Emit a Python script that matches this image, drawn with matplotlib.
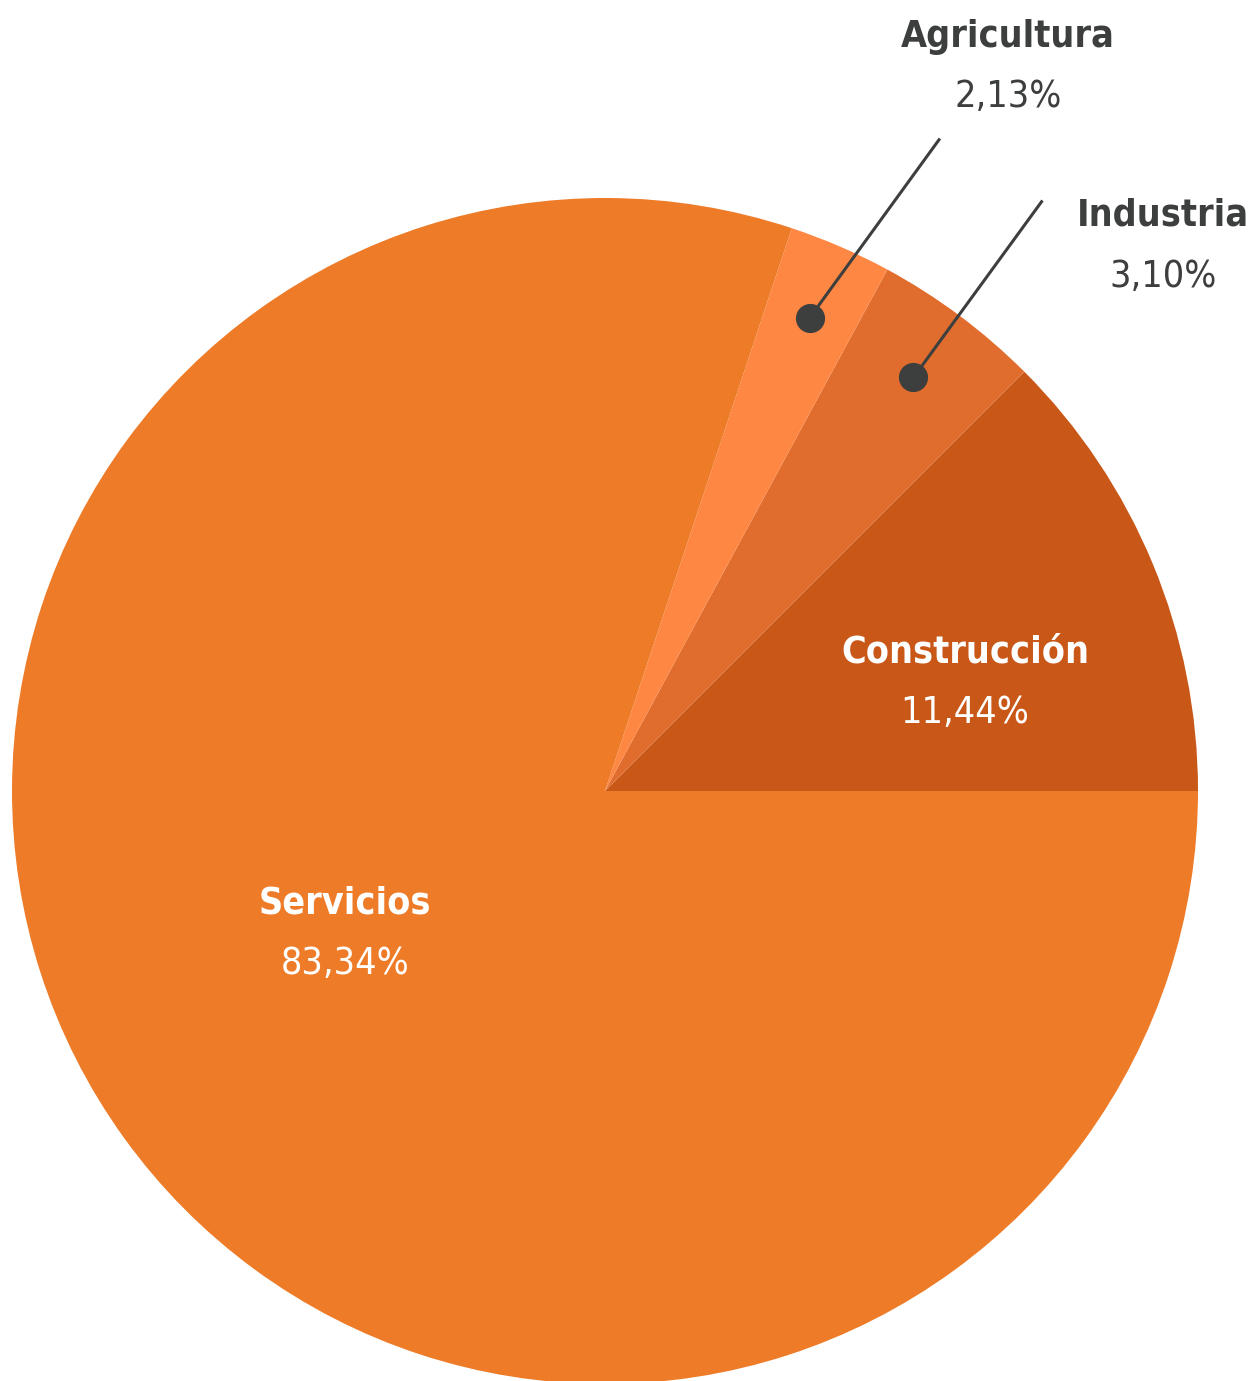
import numpy as np
import matplotlib.pyplot as plt

# sectors, counter-clockwise from 3 o'clock
sectors = ["Construcción", "Industria", "Agricultura", "Servicios"]
pct_labels = ["11,44%", "3,10%", "2,13%", "83,34%"]
# wedge sizes as drawn in the picture (degrees of the pie, in %)
shares = [12.5, 4.6, 2.8, 80.1]
colors = ["#C85718", "#E06D2E", "#FF8744", "#EE7B27"]

W, H = 1256, 1381
fig = plt.figure(figsize=(W / 100, H / 100), dpi=100)
ax = fig.add_axes([0, 0, 1, 1])

cx, cy, R = 605, H - 791, 593
wedges, _ = ax.pie(shares, colors=colors, startangle=0, counterclock=True,
                   center=(cx, cy), radius=R, frame=True,
                   wedgeprops=dict(linewidth=0))
ax.set_xlim(0, W)
ax.set_ylim(0, H)
ax.set_aspect("equal")
ax.axis("off")

fam = ["DejaVu Sans"]
dark = "#3C3F3E"
fs = 27

def mid(w):
    return np.deg2rad((w.theta1 + w.theta2) / 2)

def label(x, y1, y2, name, pct, col):
    ax.text(x, H - y1, name, ha="center", va="center", fontsize=fs,
            fontweight="bold", color=col, family=fam, fontstretch="condensed")
    ax.text(x, H - y2, pct, ha="center", va="center", fontsize=fs,
            color=col, family=fam, fontstretch="condensed")

# labels inside
inside = {"Construcción": (965, 652, 713), "Servicios": (345, 903, 964)}
for i, name in enumerate(sectors):
    if name in inside:
        x, y1, y2 = inside[name]
        label(x, y1, y2, name, pct_labels[i], "white")

# outside labels with leader lines
outside = {"Agricultura": ((1008, 37, 97), (130, 179)),
           "Industria": ((1163, 215, 277), (129, 177))}
for i, name in enumerate(sectors):
    if name in outside:
        (x, y1, y2), (dx, dy) = outside[name]
        a = mid(wedges[i])
        px, py = cx + 0.87 * R * np.cos(a), cy + 0.87 * R * np.sin(a)
        ax.plot([px, px + dx], [py, py + dy], color=dark, lw=2.2, solid_capstyle="butt")
        ax.plot(px, py, "o", color=dark, ms=20)
        label(x, y1, y2, name, pct_labels[i], dark)

fig.savefig("out.png", dpi=100, facecolor="white")
